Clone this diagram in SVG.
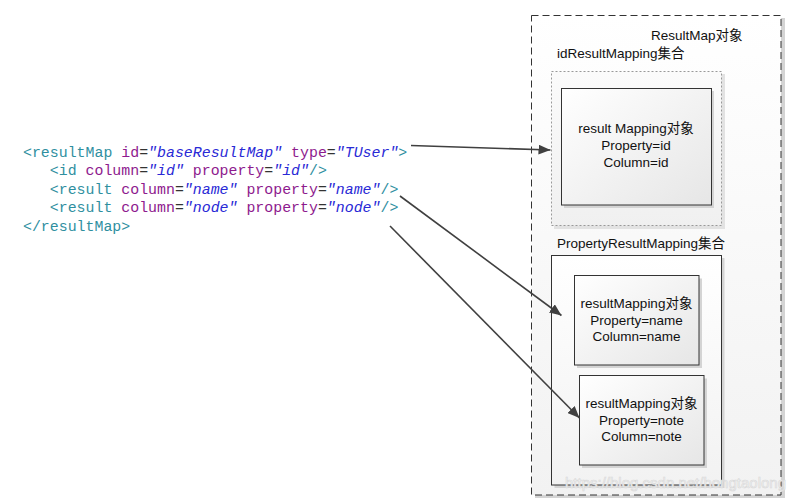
<svg xmlns="http://www.w3.org/2000/svg" width="806" height="503" viewBox="0 0 806 503">
<defs>
<linearGradient id="gOuter" x1="0" y1="0" x2="0" y2="1"><stop offset="0" stop-color="#ffffff"/><stop offset="1" stop-color="#f2f2f2"/></linearGradient>
<linearGradient id="gBox" x1="0" y1="0" x2="1" y2="1"><stop offset="0" stop-color="#ffffff"/><stop offset="1" stop-color="#e6e6e6"/></linearGradient>
<linearGradient id="gDot" x1="0" y1="0" x2="0" y2="1"><stop offset="0" stop-color="#fbfbfb"/><stop offset="1" stop-color="#f0f0f0"/></linearGradient>
<marker id="arr" viewBox="0 0 12 10" refX="12" refY="5" markerWidth="12" markerHeight="10" markerUnits="userSpaceOnUse" orient="auto"><path d="M0,0 L12,5 L0,10 z" fill="#404040"/></marker>
</defs>
<style>
.code{font-family:"Liberation Mono","DejaVu Sans Mono",monospace;font-size:14.9px;}
.tag{fill:#2f8f9f;}
.attr{fill:#8e1a8e;}
.eq{fill:#333;}
.val{fill:#2929d6;font-style:italic;}
.lbl{font-family:"Liberation Sans","Noto Sans CJK SC",sans-serif;font-size:13.5px;fill:#111;}
.mid{text-anchor:middle;}
.box{fill:url(#gBox);stroke:#333;stroke-width:1;}
.shadow{fill:#d4d4d4;}
.conn{stroke:#404040;stroke-width:1.6;fill:none;marker-end:url(#arr);}
</style>
<rect width="806" height="503" fill="#ffffff"/>

<g id="code" class="code">
<text x="23" y="156.5"><tspan class="tag">&lt;resultMap</tspan> <tspan class="attr">id</tspan><tspan class="eq">=</tspan><tspan class="val">"baseResultMap"</tspan> <tspan class="attr">type</tspan><tspan class="eq">=</tspan><tspan class="val">"TUser"</tspan><tspan class="tag">&gt;</tspan></text>
<text x="49.8" y="175"><tspan class="tag">&lt;id</tspan> <tspan class="attr">column</tspan><tspan class="eq">=</tspan><tspan class="val">"id"</tspan> <tspan class="attr">property</tspan><tspan class="eq">=</tspan><tspan class="val">"id"</tspan><tspan class="tag">/&gt;</tspan></text>
<text x="49.8" y="193.5"><tspan class="tag">&lt;result</tspan> <tspan class="attr">column</tspan><tspan class="eq">=</tspan><tspan class="val">"name"</tspan> <tspan class="attr">property</tspan><tspan class="eq">=</tspan><tspan class="val">"name"</tspan><tspan class="tag">/&gt;</tspan></text>
<text x="49.8" y="212"><tspan class="tag">&lt;result</tspan> <tspan class="attr">column</tspan><tspan class="eq">=</tspan><tspan class="val">"node"</tspan> <tspan class="attr">property</tspan><tspan class="eq">=</tspan><tspan class="val">"node"</tspan><tspan class="tag">/&gt;</tspan></text>
<text x="23" y="230.5"><tspan class="tag">&lt;/resultMap&gt;</tspan></text>
</g>

<g id="resultMap">
<rect x="535" y="18" width="250" height="480" class="shadow"/>
<rect x="531.5" y="15.5" width="249.5" height="479.5" fill="url(#gOuter)" stroke="#333" stroke-width="1" stroke-dasharray="7,4"/>
<text x="651" y="39.5" class="lbl">ResultMap对象</text>
</g>

<g id="idResultMapping">
<text x="557" y="58" class="lbl">idResultMapping集合</text>
<rect x="554" y="74" width="171" height="155" fill="#e2e2e2"/>
<rect x="551.5" y="71.5" width="170" height="154" fill="url(#gDot)" stroke="#999" stroke-width="1" stroke-dasharray="2,2"/>
</g>

<g id="idMapping">
<rect x="564" y="91" width="150" height="117" class="shadow"/>
<rect x="561.5" y="88.5" width="150" height="116.5" class="box"/>
<text x="636" y="133" class="lbl mid">result Mapping对象</text>
<text x="636" y="150" class="lbl mid">Property=id</text>
<text x="636" y="166.5" class="lbl mid">Column=id</text>
</g>

<g id="propertyResultMapping">
<text x="557" y="248" class="lbl">PropertyResultMapping集合</text>
<rect x="554.5" y="258" width="170" height="230" class="shadow"/>
<rect x="551.5" y="255.5" width="170" height="229.5" fill="url(#gOuter)" stroke="#333" stroke-width="1"/>
</g>

<g id="nameMapping">
<rect x="577" y="278.5" width="125" height="89.5" class="shadow"/>
<rect x="574.5" y="275.5" width="124.5" height="89.5" class="box"/>
<text x="636.5" y="308" class="lbl mid">resultMapping对象</text>
<text x="636.5" y="324.5" class="lbl mid">Property=name</text>
<text x="636.5" y="341" class="lbl mid">Column=name</text>
</g>

<g id="noteMapping">
<rect x="582" y="378.5" width="125" height="89.5" class="shadow"/>
<rect x="579.5" y="375.5" width="124.5" height="89.5" class="box"/>
<text x="641.5" y="407.5" class="lbl mid">resultMapping对象</text>
<text x="641.5" y="424.5" class="lbl mid">Property=note</text>
<text x="641.5" y="441" class="lbl mid">Column=note</text>
</g>

<g id="connectors">
<line x1="411" y1="145.5" x2="550.5" y2="150" class="conn"/>
<line x1="400" y1="196" x2="561.5" y2="315.5" class="conn"/>
<line x1="390" y1="226" x2="579.5" y2="418" class="conn"/>
</g>

<text x="565" y="488" font-family="Liberation Sans, sans-serif" font-size="15" fill="#f4f4f4" stroke="#d8d8d8" stroke-width="0.6">https://blog.csdn.net/hongtaolong</text>
</svg>
